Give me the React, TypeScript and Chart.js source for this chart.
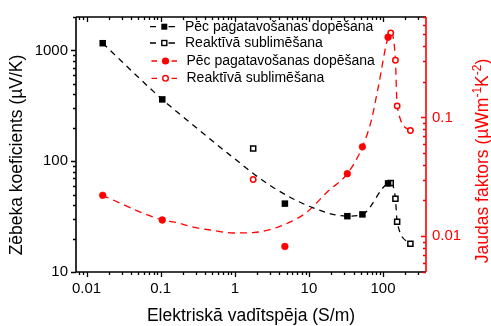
import React, { useEffect, useRef } from 'react';
import { Chart, registerables } from 'chart.js';
Chart.register(...registerables);

const FONT = '"Liberation Sans", Arial, Helvetica, sans-serif';

// Measured points
const condDoped = [0.0165, 0.105, 4.74, 33, 52.7, 117];
const seebeckDoped = [1160, 361, 41.4, 31.9, 33.1, 63];
const pfDoped = [0.0221, 0.0137, 0.0082, 0.0336, 0.0565, 0.473];

const condSubl = [1.77, 127, 147, 155, 234];
const seebeckSubl = [130, 63.5, 45.8, 28.4, 18];
const pfSubl = [0.03, 0.513, 0.303, 0.125, 0.0776];

// Dashed guide curves
const curveSeebeckX = [0.0165, 0.105, 0.247, 0.855, 2.97, 11.4, 33, 52.7, 117, 127, 147, 155, 234];
const curveSeebeckY = [1160, 361, 224, 114, 60.6, 37.9, 31.9, 33.1, 63, 63.5, 45.8, 28.4, 18];
const curvePfX = [0.0162, 0.105, 0.155, 0.274, 0.509, 0.948, 1.77, 2.97, 5.54, 9.3, 18.2, 33, 52.7, 70.2, 86.6, 117, 129, 147, 155, 234];
const curvePfY = [0.0221, 0.0137, 0.01313, 0.01193, 0.01121, 0.01065, 0.01073, 0.01136, 0.01313, 0.01587, 0.024, 0.0336, 0.0565, 0.0968, 0.1827, 0.473, 0.513, 0.303, 0.125, 0.0776];

const xMajor = [0.01, 0.1, 1, 10, 100];
const yMajor = [10, 100, 1000];
const y2Major = [0.01, 0.1];

const xLabels = ['0.01', '0.1', '1', '10', '100'];
const yLabels = ['10', '100', '1000'];
const y2Labels = ['0.01', '0.1'];

const legendLabels = [
  'Pēc pagatavošanas dopēšana',
  'Reaktīvā sublimēšana',
  'Pēc pagatavošanas dopēšana',
  'Reaktīvā sublimēšana',
];

const xTitle = 'Elektriskā vadītspēja (S/m)';
const yTitle = 'Zēbeka koeficients (µV/K)';

const RED = '#ff0000';

const zip = (xs: number[], ys: number[]) => xs.map((x, i) => ({ x, y: ys[i] }));

function logTicks(min: number, max: number) {
  const res: { v: number; major: boolean }[] = [];
  for (let e = Math.floor(Math.log10(min)) - 1; e <= Math.ceil(Math.log10(max)); e++) {
    for (let m = 1; m <= 9; m++) {
      const v = parseFloat((m * Math.pow(10, e)).toPrecision(6));
      if (v >= min * 0.9999 && v <= max * 1.0001) res.push({ v, major: m === 1 });
    }
  }
  return res;
}

const decoPlugin = {
  id: 'deco',
  afterDraw(chart: any) {
    const ctx: CanvasRenderingContext2D = chart.ctx;
    const { left, right, top, bottom } = chart.chartArea;
    const sx = chart.scales.x, sy = chart.scales.y, sy2 = chart.scales.y2;
    ctx.save();
    ctx.lineWidth = 1.3;
    ctx.strokeStyle = '#000';
    ctx.beginPath();
    for (const t of logTicks(sx.min, sx.max)) {
      const px = Math.round(sx.getPixelForValue(t.v)) + 0.5;
      const len = t.major ? 5 : 3;
      ctx.moveTo(px, bottom); ctx.lineTo(px, bottom + len);
      ctx.moveTo(px, top); ctx.lineTo(px, top + len);
    }
    for (const t of logTicks(sy.min, sy.max)) {
      const py = Math.round(sy.getPixelForValue(t.v)) + 0.5;
      const len = t.major ? 5 : 3;
      ctx.moveTo(left, py); ctx.lineTo(left - len, py);
    }
    ctx.stroke();
    ctx.lineWidth = 1.6;
    ctx.beginPath();
    ctx.moveTo(left, top); ctx.lineTo(right, top);
    ctx.moveTo(left, top); ctx.lineTo(left, bottom); ctx.lineTo(right, bottom);
    ctx.stroke();
    ctx.strokeStyle = RED;
    ctx.lineWidth = 1.3;
    ctx.beginPath();
    for (const t of logTicks(sy2.min, sy2.max)) {
      const py = Math.round(sy2.getPixelForValue(t.v)) + 0.5;
      const len = t.major ? 5 : 3;
      ctx.moveTo(right, py); ctx.lineTo(right - len, py);
    }
    ctx.stroke();
    ctx.lineWidth = 1.6;
    ctx.beginPath();
    ctx.moveTo(right, top); ctx.lineTo(right, bottom);
    ctx.stroke();

    // titles
    const titleFont = `17.5px ${FONT}`;
    ctx.font = titleFont;
    ctx.fillStyle = '#000';
    ctx.textAlign = 'center';
    ctx.textBaseline = 'middle';
    ctx.fillText(xTitle, 251, 316);
    ctx.save();
    ctx.translate(17, 155);
    ctx.rotate(-Math.PI / 2);
    ctx.fillText(yTitle, 0, 0);
    ctx.restore();

    ctx.save();
    ctx.translate(483, 161);
    ctx.rotate(-Math.PI / 2);
    ctx.fillStyle = RED;
    const parts: [string, boolean][] = [['Jaudas faktors (µWm', false], ['-1', true], ['K', false], ['-2', true], [')', false]];
    const fS = `12px ${FONT}`;
    let total = 0;
    for (const [s, sup] of parts) { ctx.font = sup ? fS : titleFont; total += ctx.measureText(s).width; }
    let cx = -total / 2;
    ctx.textAlign = 'left';
    for (const [s, sup] of parts) {
      ctx.font = sup ? fS : titleFont;
      ctx.fillText(s, cx, sup ? -5.5 : 0);
      cx += ctx.measureText(s).width;
    }
    ctx.restore();

    // legend
    const rows = [26.7, 43, 61, 78.3];
    ctx.font = `14px ${FONT}`;
    ctx.textAlign = 'left';
    ctx.textBaseline = 'middle';
    rows.forEach((ry, i) => {
      const isRed = i >= 2;
      const col = isRed ? RED : '#000';
      ctx.strokeStyle = col;
      ctx.fillStyle = col;
      ctx.lineWidth = 1.3;
      ctx.beginPath();
      if (isRed) {
        ctx.moveTo(151.5, ry); ctx.lineTo(157, ry);
        ctx.moveTo(171.5, ry); ctx.lineTo(177, ry);
      } else {
        ctx.moveTo(150, ry); ctx.lineTo(156, ry);
        ctx.moveTo(168.5, ry); ctx.lineTo(175, ry);
      }
      ctx.stroke();
      const mx = isRed ? 165.5 : 164.3;
      if (i === 0) {
        ctx.fillRect(mx - 3, ry - 3, 6, 6);
      } else if (i === 1) {
        ctx.lineWidth = 1.4;
        ctx.fillStyle = '#fff';
        ctx.fillRect(mx - 2.5, ry - 2.5, 5, 5);
        ctx.strokeRect(mx - 2.5, ry - 2.5, 5, 5);
      } else if (i === 2) {
        ctx.beginPath(); ctx.arc(mx, ry, 3.6, 0, Math.PI * 2); ctx.fill();
      } else {
        ctx.lineWidth = 1.4;
        ctx.fillStyle = '#fff';
        ctx.beginPath(); ctx.arc(mx, ry, 2.8, 0, Math.PI * 2); ctx.fill(); ctx.stroke();
      }
      ctx.fillStyle = '#000';
      ctx.fillText(legendLabels[i], isRed ? 186.5 : 185, ry);
    });
    ctx.restore();
  },
};

export default function App() {
  const ref = useRef<HTMLCanvasElement>(null);
  useEffect(() => {
    const canvas = ref.current!;
    const chart = new Chart(canvas, {
      type: 'scatter',
      data: {
        datasets: [
          {
            data: zip(curveSeebeckX, curveSeebeckY), yAxisID: 'y', showLine: true,
            borderColor: '#000', borderWidth: 1.3, borderDash: [6, 5], pointRadius: 0,
            cubicInterpolationMode: 'monotone', order: 3,
          },
          {
            data: zip(curvePfX, curvePfY), yAxisID: 'y2', showLine: true,
            borderColor: RED, borderWidth: 1.3, borderDash: [7, 5], pointRadius: 0,
            cubicInterpolationMode: 'monotone', order: 3,
          },
          {
            data: zip(condDoped, seebeckDoped), yAxisID: 'y', pointStyle: 'rect',
            pointRadius: 4.6, backgroundColor: '#000', borderColor: '#000', borderWidth: 0, order: 1,
          },
          {
            data: zip(condSubl, seebeckSubl), yAxisID: 'y', pointStyle: 'rect',
            pointRadius: 3.6, backgroundColor: '#fff', borderColor: '#000', borderWidth: 1.5, order: 1,
          },
          {
            data: zip(condDoped, pfDoped), yAxisID: 'y2', pointStyle: 'circle',
            pointRadius: 3.4, backgroundColor: RED, borderColor: RED, borderWidth: 0.5, order: 1,
          },
          {
            data: zip(condSubl, pfSubl), yAxisID: 'y2', pointStyle: 'circle',
            pointRadius: 2.7, backgroundColor: '#fff', borderColor: RED, borderWidth: 1.5, order: 1,
          },
        ],
      },
      options: {
        responsive: true,
        maintainAspectRatio: false,
        animation: false,
        events: [],
        layout: { padding: { top: 13, left: 0, right: 0, bottom: 0 } },
        plugins: { legend: { display: false }, tooltip: { enabled: false } },
        scales: {
          x: {
            type: 'logarithmic', position: 'bottom', min: 0.0072, max: 380,
            grid: { display: false, drawTicks: false }, border: { display: false },
            afterBuildTicks: (s: any) => { s.ticks = xMajor.map((v) => ({ value: v })); },
            afterFit: (s: any) => { s.height = 54; },
            ticks: {
              autoSkip: false, maxRotation: 0, padding: 8, color: '#000',
              font: { family: FONT, size: 15 },
              callback: (v: any) => xLabels[xMajor.indexOf(Number(v))] ?? '',
            },
          },
          y: {
            type: 'logarithmic', position: 'left', min: 10, max: 2000,
            grid: { display: false, drawTicks: false }, border: { display: false },
            afterBuildTicks: (s: any) => { s.ticks = yMajor.map((v) => ({ value: v })); },
            afterFit: (s: any) => { s.width = 76; },
            ticks: {
              autoSkip: false, padding: 8, color: '#000',
              font: { family: FONT, size: 15 },
              callback: (v: any) => yLabels[yMajor.indexOf(Number(v))] ?? '',
            },
          },
          y2: {
            type: 'logarithmic', position: 'right', min: 0.005, max: 0.7,
            grid: { display: false, drawTicks: false }, border: { display: false },
            afterBuildTicks: (s: any) => { s.ticks = y2Major.map((v) => ({ value: v })); },
            afterFit: (s: any) => { s.width = 65; },
            ticks: {
              autoSkip: false, padding: 6, color: RED,
              font: { family: FONT, size: 15 },
              callback: (v: any) => y2Labels[y2Major.indexOf(Number(v))] ?? '',
            },
          },
        },
      },
      plugins: [decoPlugin],
    } as any);
    return () => chart.destroy();
  }, []);
  return (
    <div style={{ position: 'absolute', left: 0, top: 0, width: 491, height: 326, background: '#fff' }}>
      <canvas ref={ref} />
    </div>
  );
}
